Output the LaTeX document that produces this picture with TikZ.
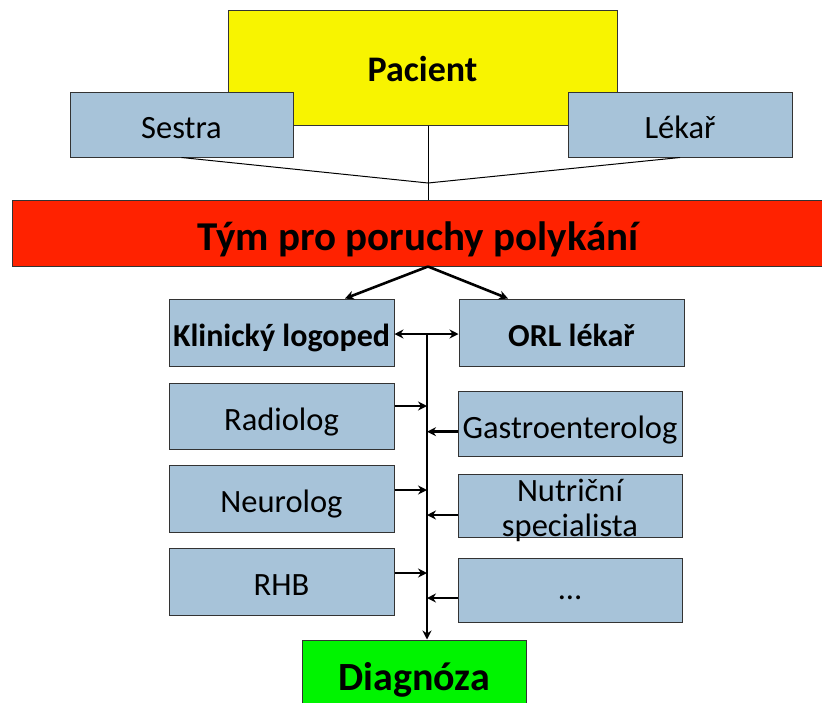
\documentclass[tikz,border=0pt]{standalone}
\usepackage{fontspec}
\setmainfont{Carlito}
\usetikzlibrary{arrows.meta,calc}
\definecolor{pyellow}{HTML}{F8F400}
\definecolor{pblue}{HTML}{A7C3D9}
\definecolor{pred}{HTML}{FF2200}
\definecolor{pgreen}{HTML}{00F400}
\begin{document}
\begin{tikzpicture}[x=1pt,y=-1pt,
  box/.style={draw=black!80,line width=1pt,fill=pblue,inner sep=0pt,
    minimum width=225pt,minimum height=66pt,font=\fontsize{32.5}{36}\selectfont,text=black,
    text height=28pt,text depth=0pt},
  boldbox/.style={box,font=\fontsize{32}{36}\selectfont\bfseries},
  txt/.style={font=\fontsize{32.5}{36}\selectfont,inner sep=0pt,anchor=base},
  thin/.style={line width=1pt,black},
  arr/.style={line width=2.6pt,black,-{Stealth[length=9pt,width=9pt]}},
  darr/.style={line width=2.6pt,black,{Stealth[length=9pt,width=9pt]}-{Stealth[length=9pt,width=9pt]}}]
\useasboundingbox (0,0) rectangle (822,702);
% top
\node[draw=black!80,line width=1pt,fill=pyellow,minimum width=389pt,minimum height=115pt,inner sep=0pt,
  font=\fontsize{36}{40}\selectfont\bfseries,text height=28.5pt,text depth=0pt] (pac) at (422.5,67.5) {Pacient};
\node[box,minimum width=223pt,minimum height=65pt] (ses) at (181.5,124.5) {Sestra};
\node[box,minimum width=224pt,minimum height=65pt] (lek) at (680,124.5) {Lékař};
\node[draw=black!80,line width=1pt,fill=pred,minimum width=812pt,minimum height=66pt,inner sep=0pt,
  font=\fontsize{41}{46}\selectfont\bfseries,text height=34pt,text depth=0pt] (tym) at (418,233) {Tým pro poruchy polykání};
\coordinate (j) at (428,183);
\draw[thin] (ses.south) -- (j) -- (lek.south);
\draw[thin] (pac.south -| j) -- (tym.north -| j);
% middle
\node[boldbox,minimum height=67pt] (kli) at (281.5,332.5) {Klinický logoped};
\node[boldbox,minimum height=67pt] (orl) at (571.5,332.5) {ORL lékař};
\node[box] (rad) at (281.5,416) {Radiolog};
\node[box,minimum width=224pt,minimum height=65pt,text height=29.5pt] (gas) at (570,424.2) {Gastroenterolog};
\node[box,minimum height=67pt] (neu) at (281.5,498.5) {Neurolog};
\node[box,minimum width=224pt,minimum height=63.5pt] (nut) at (570,506) {};
\node[txt] at (570,501) {Nutriční};
\node[txt] at (570,536) {specialista};
\node[box,minimum height=67pt] (rhb) at (281.5,581.5) {RHB};
\node[box,minimum width=224pt,minimum height=64pt,text height=19pt] (dots) at (570,590) {\dots};
\node[draw=black!80,line width=1pt,fill=pgreen,minimum width=224pt,minimum height=80pt,inner sep=0pt,
  font=\fontsize{40}{46}\selectfont\bfseries,text height=20pt,text depth=0pt] (dia) at (414,680) {Diagnóza};
% arrows from team
\coordinate (tb) at (j |- tym.south);
\coordinate (ka) at (345,0);
\coordinate (oa) at (508,0);
\draw[arr] (tb) -- (kli.north -| ka);
\draw[arr] (tb) -- (orl.north -| oa);
% bus
\coordinate (bus) at (427,334);
\draw[darr] (kli.east |- bus) -- (orl.west |- bus);
\draw[arr] (bus) -- (dia.north -| bus);
\draw[arr] ([yshift=10pt]rad.east) -- ([yshift=10pt]rad.east -| bus);
\draw[arr] ([yshift=8.5pt]neu.east) -- ([yshift=8.5pt]neu.east -| bus);
\draw[arr] ([yshift=8.5pt]rhb.east) -- ([yshift=8.5pt]rhb.east -| bus);
\draw[arr] ([yshift=-7.5pt]gas.west) -- ([yshift=-7.5pt]gas.west -| bus);
\draw[arr] ([yshift=-9pt]nut.west) -- ([yshift=-9pt]nut.west -| bus);
\draw[arr] ([yshift=-8pt]dots.west) -- ([yshift=-8pt]dots.west -| bus);
\end{tikzpicture}
\end{document}
